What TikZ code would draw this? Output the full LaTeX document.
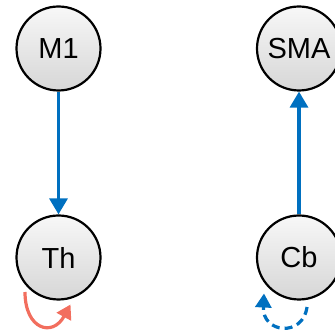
\documentclass[tikz,border=0pt]{standalone}
\usepackage{fontspec}
\setmainfont{Liberation Sans}
\usetikzlibrary{arrows.meta}
\definecolor{linkblue}{RGB}{0,112,192}
\definecolor{selfred}{RGB}{242,110,94}

\begin{document}
\begin{tikzpicture}[x=1pt, y=1pt,
    area/.style={circle, draw=black, line width=2.2pt, minimum size=84pt, inner sep=0pt,
      top color=gray!6, bottom color=gray!32, font=\fontsize{29}{34}\selectfont},
    link/.style={linkblue, line width=3.2pt, -{Triangle[width=18pt,length=16pt]}},
    selfloop/.style={line width=3.2pt, -{Triangle[width=16pt,length=14pt]}}]
      \useasboundingbox (0, 0) rectangle (334, 336);
      \node[area] (m1) at (58.5, 287.5) {M1};
      \node[area] (sma) at (299, 287.5) {SMA};
      \node[area] (th) at (58.5, 78.5) {Th};
      \node[area] (cb) at (299, 78.5) {Cb};
      \draw[link] (m1) -- (th);
      \draw[link] (cb) -- (sma);
      \draw[selfloop, selfred] ([shift={(-33.5, -34.5)}]th.center)
        .. controls ([shift={(-33.5, -72)}]th.center) and ([shift={(-6, -80)}]th.center)
        .. ([shift={(12, -47)}]th.center);
      \draw[selfloop, linkblue, dash pattern=on 8pt off 5pt] ([shift={(8, -49.5)}]cb.center)
        .. controls ([shift={(4, -80)}]cb.center) and ([shift={(-37, -76)}]cb.center)
        .. ([shift={(-35, -36)}]cb.center);
\end{tikzpicture}
\end{document}
